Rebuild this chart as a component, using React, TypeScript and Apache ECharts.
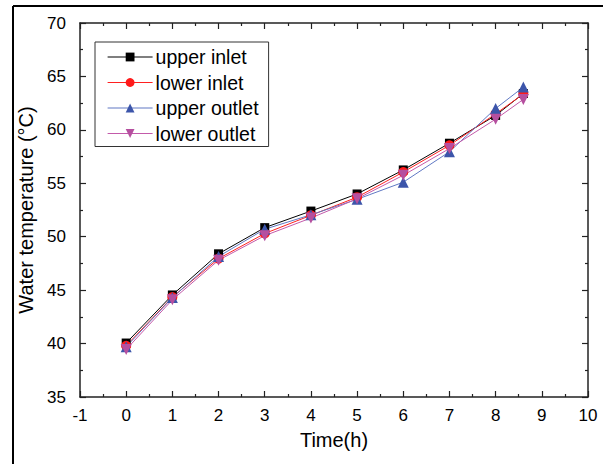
import React, { useEffect, useRef } from "react";
import * as echarts from "echarts";

const times = [0, 1, 2, 3, 4, 5, 6, 7, 8, 8.6];
const upperInlet = [40.05, 44.55, 48.4, 50.85, 52.4, 54.0, 56.25, 58.75, 61.35, 63.4];
const lowerInlet = [39.8, 44.35, 47.95, 50.3, 52.0, 53.7, 56.05, 58.55, 61.5, 63.35];
const upperOutlet = [39.7, 44.3, 48.15, 50.7, 52.05, 53.5, 55.1, 57.95, 62.0, 64.0];
const lowerOutlet = [39.45, 44.1, 47.8, 50.1, 51.75, 53.55, 55.75, 58.25, 61.0, 62.85];

const seriesNames = ["upper inlet", "lower inlet", "upper outlet", "lower outlet"];

const FONT = "'Liberation Sans', Arial, sans-serif";

function pairs(vals: number[]) {
  return times.map((t, i) => [t, vals[i]]);
}

export default function App() {
  const ref = useRef<HTMLDivElement>(null);
  useEffect(() => {
    if (!ref.current) return;
    const chart = echarts.init(ref.current, null, { renderer: "svg" });
    const axisLine = { show: true, onZero: false, lineStyle: { color: "#222", width: 1.5 } };
    const tick = { show: true, inside: true, length: 6, lineStyle: { color: "#222", width: 1.2 } };
    const minor = { show: true, splitNumber: 2, length: 3, lineStyle: { color: "#222", width: 1.2 } };
    const mk = (name: string, vals: number[], symbol: string, size: number, mcol: string, lcol: string, rot = 0) => ({
      name,
      type: "line",
      data: pairs(vals),
      symbol,
      symbolSize: size,
      symbolRotate: rot,
      showAllSymbol: true,
      itemStyle: { color: mcol },
      lineStyle: { color: lcol, width: 1 },
      emphasis: { disabled: true },
    });
    chart.setOption({
      animation: false,
      backgroundColor: "#fff",
      grid: { left: 80, right: 15, top: 23, bottom: 67 },
      legend: {
        orient: "vertical",
        left: 95,
        top: 42,
        padding: [5, 10, 3, 12],
        itemWidth: 45,
        itemHeight: 11,
        itemGap: 5.5,
        borderColor: "#333",
        borderWidth: 1,
        data: seriesNames,
        lineStyle: { width: 1.2 },
        textStyle: { fontFamily: FONT, fontSize: 19.5, color: "#000", padding: [0, 0, 0, -2] },
      },
      xAxis: [
        {
          type: "value",
          min: -1,
          max: 10,
          interval: 1,
          name: "Time(h)",
          nameLocation: "middle",
          nameGap: 33,
          nameTextStyle: { fontFamily: FONT, fontSize: 20, color: "#000" },
          axisLine,
          axisTick: tick,
          minorTick: minor,
          splitLine: { show: false },
          minorSplitLine: { show: false },
          axisLabel: { fontFamily: FONT, fontSize: 17, color: "#000", margin: 10 },
        },
        {
          type: "value",
          position: "top",
          min: -1,
          max: 10,
          interval: 1,
          axisLine,
          axisTick: tick,
          minorTick: minor,
          splitLine: { show: false },
          axisLabel: { show: false },
        },
      ],
      yAxis: [
        {
          type: "value",
          min: 35,
          max: 70,
          interval: 5,
          name: "Water temperature (°C)",
          nameLocation: "middle",
          nameGap: 38,
          nameTextStyle: { fontFamily: FONT, fontSize: 20, color: "#000" },
          axisLine,
          axisTick: tick,
          minorTick: minor,
          splitLine: { show: false },
          axisLabel: { fontFamily: FONT, fontSize: 17, color: "#000", margin: 14 },
        },
        {
          type: "value",
          position: "right",
          min: 35,
          max: 70,
          interval: 5,
          axisLine,
          axisTick: tick,
          minorTick: minor,
          splitLine: { show: false },
          axisLabel: { show: false },
        },
      ],
      graphic: [
        { type: "line", shape: { x1: 13, y1: 6, x2: 603, y2: 6 }, style: { stroke: "#000", lineWidth: 2 } },
        { type: "line", shape: { x1: 13, y1: 6, x2: 13, y2: 464 }, style: { stroke: "#000", lineWidth: 2 } },
      ],
      series: [
        mk(seriesNames[0], upperInlet, "rect", 9, "#000000", "#000000"),
        mk(seriesNames[1], lowerInlet, "circle", 10, "#ff1a1a", "#ff2020"),
        mk(seriesNames[2], upperOutlet, "triangle", 11, "#3c55aa", "#6079c4"),
        mk(seriesNames[3], lowerOutlet, "triangle", 11, "#b54f9f", "#c35aaa", 180),
      ],
    });
    return () => chart.dispose();
  }, []);
  return <div ref={ref} style={{ width: 603, height: 464, position: "absolute", left: 0, top: 0 }} />;
}
